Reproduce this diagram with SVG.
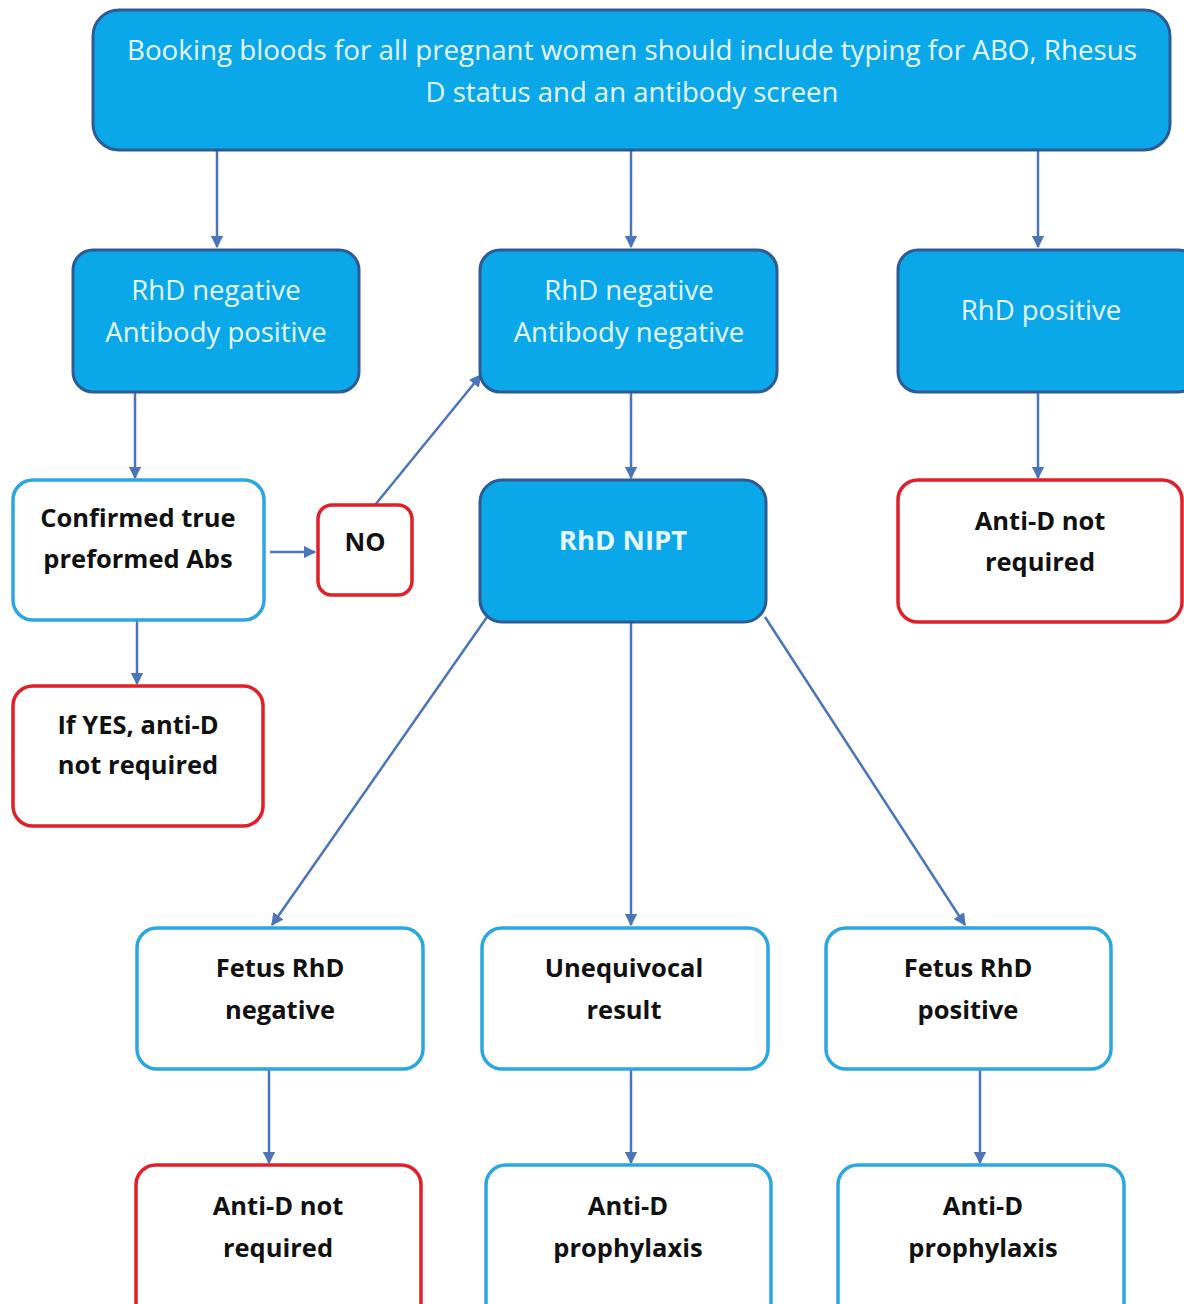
<svg xmlns="http://www.w3.org/2000/svg" width="1184" height="1304" viewBox="0 0 1184 1304">
<defs>
<style>
.blue{fill:#0AA8E8;stroke:#2E5A96;stroke-width:3}
.lb{fill:#ffffff;stroke:#2AA7DF;stroke-width:3.5}
.red{fill:#ffffff;stroke:#E21E26;stroke-width:3.5}
.wt{font-family:"Open Sans","Liberation Sans",Arial,sans-serif;font-size:27.5px;fill:#E6F7FF;text-anchor:middle}
.bt{font-family:"Open Sans","Liberation Sans",Arial,sans-serif;font-size:25.5px;font-weight:bold;fill:#111111;text-anchor:middle}
.c{stroke:#4C74B9;stroke-width:2.5;fill:none;marker-end:url(#ah)}
</style>
<marker id="ah" viewBox="0 0 10 10" refX="9" refY="5" markerWidth="5" markerHeight="5" orient="auto" markerUnits="strokeWidth">
<path d="M0,0 L10,5 L0,10 z" fill="#4C74B9"/>
</marker>
</defs>
<rect width="1184" height="1304" fill="#ffffff"/>
<g id="connectors">
<line class="c" x1="217" y1="150" x2="217" y2="247"/>
<line class="c" x1="631" y1="150" x2="631" y2="247"/>
<line class="c" x1="1038" y1="150" x2="1038" y2="247"/>
<line class="c" x1="135" y1="392" x2="135" y2="478"/>
<line class="c" x1="270" y1="552" x2="315" y2="552"/>
<line class="c" x1="375" y1="505" x2="481" y2="375"/>
<line class="c" x1="137" y1="620" x2="137" y2="684"/>
<line class="c" x1="631" y1="392" x2="631" y2="478"/>
<line class="c" x1="1038" y1="392" x2="1038" y2="478"/>
<line class="c" x1="487" y1="617" x2="272" y2="925"/>
<line class="c" x1="631" y1="622" x2="631" y2="925"/>
<line class="c" x1="765" y1="617" x2="965" y2="925"/>
<line class="c" x1="269" y1="1069" x2="269" y2="1163"/>
<line class="c" x1="631" y1="1069" x2="631" y2="1163"/>
<line class="c" x1="980" y1="1069" x2="980" y2="1163"/>
</g>
<g id="top">
<rect class="blue" x="93" y="10" width="1077" height="140" rx="26"/>
<text class="wt" x="632" y="60" textLength="1010" lengthAdjust="spacingAndGlyphs">Booking bloods for all pregnant women should include typing for ABO, Rhesus</text>
<text class="wt" x="632" y="102">D status and an antibody screen</text>
</g>
<g id="rhdnegpos">
<rect class="blue" x="73" y="250" width="286" height="142" rx="20"/>
<text class="wt" x="216" y="300">RhD negative</text>
<text class="wt" x="216" y="342">Antibody positive</text>
</g>
<g id="rhdnegneg">
<rect class="blue" x="480" y="250" width="297" height="142" rx="20"/>
<text class="wt" x="629" y="300">RhD negative</text>
<text class="wt" x="629" y="342">Antibody negative</text>
</g>
<g id="rhdpos">
<rect class="blue" x="898" y="250" width="300" height="142" rx="20"/>
<text class="wt" x="1041" y="320">RhD positive</text>
</g>
<g id="confirmed">
<rect class="lb" x="13" y="480" width="251" height="140" rx="20"/>
<text class="bt" x="138" y="527">Confirmed true</text>
<text class="bt" x="138" y="568">preformed Abs</text>
</g>
<g id="no">
<rect class="red" x="318" y="505" width="94" height="90" rx="14"/>
<text class="bt" x="365" y="551">NO</text>
</g>
<g id="ifyes">
<rect class="red" x="13" y="686" width="250" height="140" rx="20"/>
<text class="bt" x="138" y="734">If YES, anti-D</text>
<text class="bt" x="138" y="774">not required</text>
</g>
<g id="nipt">
<rect class="blue" x="480" y="480" width="286" height="142" rx="22"/>
<text class="wt" x="623" y="550" font-weight="bold" font-size="26px">RhD NIPT</text>
</g>
<g id="antid1">
<rect class="red" x="898" y="480" width="284" height="142" rx="20"/>
<text class="bt" x="1040" y="530">Anti-D not</text>
<text class="bt" x="1040" y="571">required</text>
</g>
<g id="fetusneg">
<rect class="lb" x="137" y="928" width="286" height="141" rx="20"/>
<text class="bt" x="280" y="977">Fetus RhD</text>
<text class="bt" x="280" y="1019">negative</text>
</g>
<g id="uneq">
<rect class="lb" x="482" y="928" width="286" height="141" rx="20"/>
<text class="bt" x="624" y="977">Unequivocal</text>
<text class="bt" x="624" y="1019">result</text>
</g>
<g id="fetuspos">
<rect class="lb" x="826" y="928" width="285" height="141" rx="20"/>
<text class="bt" x="968" y="977">Fetus RhD</text>
<text class="bt" x="968" y="1019">positive</text>
</g>
<g id="antid2">
<rect class="red" x="136" y="1165" width="285" height="160" rx="20"/>
<text class="bt" x="278" y="1215">Anti-D not</text>
<text class="bt" x="278" y="1257">required</text>
</g>
<g id="proph1">
<rect class="lb" x="486" y="1165" width="285" height="160" rx="20"/>
<text class="bt" x="628" y="1215">Anti-D</text>
<text class="bt" x="628" y="1257">prophylaxis</text>
</g>
<g id="proph2">
<rect class="lb" x="838" y="1165" width="286" height="160" rx="20"/>
<text class="bt" x="983" y="1215">Anti-D</text>
<text class="bt" x="983" y="1257">prophylaxis</text>
</g>
</svg>
